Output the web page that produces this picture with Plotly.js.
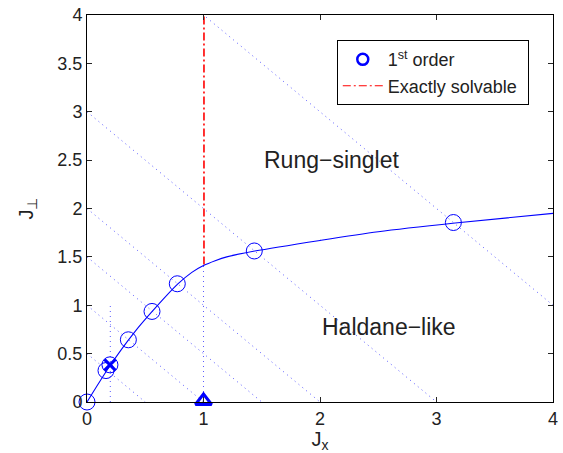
<!DOCTYPE html>
<html>
<head>
<meta charset="utf-8">
<script src="https://cdn.plot.ly/plotly-3.0.1.min.js"></script>
<style>html,body{margin:0;padding:0;background:#fff;}#chart{width:563px;height:453px;}</style>
</head>
<body>
<div id="chart"></div>
<script>
// Data
const curveX = [0, 0.2, 0.4, 0.6, 0.78, 0.9, 1.0, 1.1, 1.2, 1.44, 2.0, 2.5, 3.16, 4.0];
const curveY = [0, 0.38, 0.71, 0.99, 1.22, 1.34, 1.41, 1.46, 1.50, 1.56, 1.67, 1.76, 1.85, 1.95];
const firstOrderX = [0, 0.163, 0.355, 0.558, 0.775, 1.436, 3.145];
const firstOrderY = [0, 0.325, 0.643, 0.936, 1.222, 1.561, 1.855];
const crossX = [0.197];
const crossY = [0.384];
const triX = [1];
const triY = [0.01];
const exactX = [1.004, 1.004];
const exactY = [1.42, 4];
const diagSums = [0.5, 1, 1.5, 2, 3, 5];
const vertDotX = [0.2, 1];
const vertDotTop = [1.0, 1.42];
const xTicks = [0, 1, 2, 3, 4];
const yTicks = [0, 0.5, 1, 1.5, 2, 2.5, 3, 3.5, 4];

const FONT = 'Liberation Sans, Arial, Helvetica, sans-serif';
const TXT = '#222222';
const dotColor = '#5a5aff';
const traces = [];

diagSums.forEach(c => {
  traces.push({x: [0, c], y: [c, 0], mode: 'lines', showlegend: false, hoverinfo: 'skip',
    line: {color: dotColor, width: 1, dash: '1px,4px'}});
});
vertDotX.forEach((vx, i) => {
  traces.push({x: [vx, vx], y: [0, vertDotTop[i]], mode: 'lines', showlegend: false, hoverinfo: 'skip',
    line: {color: dotColor, width: 1, dash: '1px,4px'}});
});
traces.push({x: exactX, y: exactY, mode: 'lines', showlegend: false,
  line: {color: '#ff0000', width: 1.6, dash: '8px,3px,2px,3px'}});
traces.push({x: curveX, y: curveY, mode: 'lines', showlegend: false,
  line: {color: '#0000ff', width: 1.1, shape: 'spline', smoothing: 0.8}});
traces.push({x: firstOrderX, y: firstOrderY, mode: 'markers', showlegend: false, cliponaxis: false,
  marker: {symbol: 'circle-open', size: 16, color: '#0000ff', line: {width: 1, color: '#0000ff'}}});
traces.push({x: crossX, y: crossY, mode: 'markers', showlegend: false, cliponaxis: false,
  marker: {symbol: 'circle-open', size: 16, color: '#0000ff', line: {width: 1, color: '#0000ff'}}});
traces.push({x: crossX, y: crossY, mode: 'markers', showlegend: false, cliponaxis: false,
  marker: {symbol: 'x-thin-open', size: 11, color: '#0000ff', line: {width: 3, color: '#0000ff'}}});
traces.push({x: triX, y: triY, mode: 'markers', showlegend: false, cliponaxis: false,
  marker: {symbol: 'triangle-up-open', size: 14, color: '#0000ff', line: {width: 3, color: '#0000ff'}}});
// legend entries
traces.push({x: [null], y: [null], mode: 'markers', name: '1<sup>st</sup> order', showlegend: true,
  marker: {symbol: 'circle-open', size: 11, color: '#0000ff', line: {width: 2.5, color: '#0000ff'}}});
traces.push({x: [null], y: [null], mode: 'lines', name: 'Exactly solvable ', showlegend: true,
  line: {color: '#ff0000', width: 1.2, dash: '8px,3px,2px,3px'}});

const axisCommon = {
  showgrid: false, zeroline: false, showline: true, mirror: 'ticks', linecolor: '#000', linewidth: 1,
  ticks: 'inside', ticklen: 5, tickcolor: '#262626', tickwidth: 1,
  tickfont: {family: FONT, size: 18, color: TXT}
};

const layout = {
  width: 563, height: 453,
  margin: {l: 87, r: 10, t: 15, b: 51},
  paper_bgcolor: '#fff', plot_bgcolor: '#fff',
  xaxis: Object.assign({}, axisCommon, {range: [0, 4], tickvals: xTicks, ticktext: xTicks.map(String),
    title: {text: 'J<sub>x</sub>', font: {family: FONT, size: 20, color: TXT}, standoff: 0}}),
  yaxis: Object.assign({}, axisCommon, {range: [0, 4], tickvals: yTicks, ticktext: yTicks.map(String),
    title: {text: 'J<sub>⊥</sub>', font: {family: FONT, size: 20, color: TXT}, standoff: 18}}),
  showlegend: true,
  legend: {x: 0.536, y: 0.935, xanchor: 'left', yanchor: 'top', bgcolor: '#fff', bordercolor: '#000', borderwidth: 1,
    font: {family: FONT, size: 18, color: TXT}, tracegroupgap: 0, itemwidth: 40},
  annotations: [
    {x: 2.10, y: 2.50, xref: 'x', yref: 'y', text: 'Rung−singlet', showarrow: false,
      font: {family: FONT, size: 23, color: TXT}},
    {x: 2.59, y: 0.78, xref: 'x', yref: 'y', text: 'Haldane−like', showarrow: false,
      font: {family: FONT, size: 23, color: TXT}}
  ]
};

Plotly.newPlot('chart', traces, layout, {displayModeBar: false, staticPlot: true});
</script>
</body>
</html>
